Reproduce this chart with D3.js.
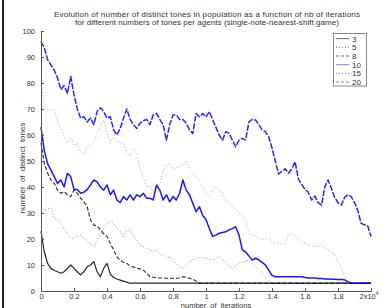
<!DOCTYPE html>
<html>
<head>
<meta charset="utf-8">
<script src="https://cdn.jsdelivr.net/npm/d3@7"></script>
<style>
  body { margin: 0; background: #fff; }
  text { font-family: "Liberation Sans", Arial, sans-serif; fill: #333; }
</style>
</head>
<body>
<script>
// Iterations are sampled every 200 steps, 0 .. 20000
const step = 200;

// Series values (number of distinct tones)
const s3 = [
  23, 15, 10.6, 8.7, 8, 7.4, 6.8, 7.4, 8.7, 10,
  8.7, 7.4, 6.2, 7.4, 9.3, 10, 11.3, 7.4, 5.5, 8.7,
  10.6, 6.5, 5.2, 4.6, 4.2, 3.8, 3.4, 3, 3, 3,
  3, 3, 3, 3, 3, 3, 3, 3, 3, 3,
  3, 3, 3, 3, 3, 3, 3, 3, 3, 3,
  3, 3, 3, 3, 3, 3, 3, 3, 3, 3,
  3, 3, 3, 3, 3, 3, 3, 3, 3, 3,
  3, 3, 3, 3, 3, 3, 3, 3, 3, 3,
  3, 3, 3, 3, 3, 3, 3, 3, 3, 3,
  3, 3, 3, 3, 3, 3, 3, 3, 3, 3,
  3
];
const s5 = [
  32.4, 31, 31.5, 32, 28, 27.5, 26, 24, 22, 20.3,
  20, 21, 21.5, 20.5, 19, 18.3, 17, 19.6, 22.2, 24.1,
  26, 26.7, 26, 24.1, 22.8, 20.9, 23.5, 23.5, 20.9, 19.6,
  17.7, 17, 16.4, 15.8, 15.1, 15.8, 14.5, 13.8, 12.6, 13.2,
  11.9, 10.6, 9.3, 8.7, 10, 11.3, 11.9, 12.6, 13, 12.6,
  12.8, 12.2, 11.9, 12.5, 13.2, 12, 11.3, 9.5, 8.7, 9.5,
  10.6, 11, 11.5, 11.9, 10.5, 9.3, 8, 6.8, 5.5, 4,
  3, 3, 3, 3, 3, 3, 3, 3, 3, 3,
  3, 3, 3, 3, 3, 3, 3, 3, 3, 3,
  3, 3, 3, 3, 3, 3, 3, 3, 3, 3,
  3
];
const s8 = [
  57, 49, 45.3, 42.7, 41.4, 38.8, 37.6, 38.2, 37, 36.3,
  38.8, 37.6, 35.7, 34.3, 32.4, 27.3, 25.4, 25, 23.5, 22,
  21, 18.3, 15.8, 13.2, 11.8, 11, 10.6, 9.6, 9.2, 8.8,
  8.5, 8, 6.8, 5.5, 5.3, 5.2, 5, 5, 4.9, 4.9,
  4.9, 4.9, 5, 5.5, 5.3, 4.9, 4.5, 3.8, 3, 3,
  3, 3, 3, 3, 3, 3, 3, 3, 3, 3,
  3, 3, 3, 3, 3, 3, 3, 3, 3, 3,
  3, 3, 3, 3, 3, 3, 3, 3, 3, 3,
  3, 3, 3, 3, 3, 3, 3, 3, 3, 3,
  3, 3, 3, 3, 3, 3, 3, 3, 3, 3,
  3
];
const s10 = [
  63, 54, 49, 46.5, 44, 41.4, 42.7, 40, 45.3, 44,
  39, 39, 37.6, 38, 39, 40.8, 42.7, 42, 40, 38.8,
  40.8, 37, 38.8, 35, 34, 36.3, 35, 37, 35, 37,
  36.3, 37.6, 35.7, 35.7, 35, 40.8, 38.8, 35, 37, 34.3,
  36.3, 35, 37.6, 42.7, 38.8, 37, 33.7, 30.5, 32.4, 29,
  27.5, 24, 21, 21.5, 22.2, 22.5, 22.8, 23.5, 24, 24.7,
  21.5, 15.8, 15, 13.5, 11.9, 12.6, 12, 11, 10, 8,
  6, 5.5, 5.5, 5.5, 5.5, 5.5, 5.5, 5.5, 5.5, 5.5,
  5.2, 5, 5, 5, 4.8, 4.8, 4.6, 4.6, 4.5, 4.5,
  4.4, 4.4, 4.3, 3.5, 3, 3, 3, 3, 3, 3,
  3
];
const s15 = [
  80, 72, 70, 69, 70, 65, 62.5, 59.5, 57, 58.8,
  56, 56.8, 53.5, 52.3, 55.5, 56, 57.4, 60.6, 63.2, 65.8,
  60.6, 57, 59.3, 58, 57, 56.8, 53.6, 51.7, 55, 53,
  47, 44, 40, 40.5, 38, 39, 41.4, 46, 48.5, 49,
  47, 47.2, 48, 48.5, 50, 47, 45.3, 44, 42, 40,
  37.5, 36.3, 39, 40, 38.5, 38, 35, 34, 32.4, 31.5,
  30, 29, 27.3, 22, 21, 21.5, 20, 19.6, 20.3, 20,
  19, 18.5, 18.3, 18, 17.7, 22, 22.2, 21, 20, 19,
  18.5, 17.7, 17.5, 17, 17.2, 17.7, 16.5, 15.8, 15, 14,
  11, 9, 5.5, 3.5, 3, 3, 3, 3, 3, 3,
  3
];
const s20 = [
  96, 93.5, 89, 87, 85, 82, 77.5, 79, 76, 82.5,
  75.5, 70, 66.5, 67, 65, 66.5, 64, 69, 70.5, 69,
  66.5, 67, 62, 60, 62.5, 66.5, 70, 66, 64, 62.5,
  64.5, 65.5, 66, 64, 67.7, 68.3, 66, 64, 58, 64,
  67.7, 67.7, 66, 66, 64.5, 62, 60.6, 68.3, 67, 68.3,
  67, 69, 66, 63, 60, 58, 61.3, 60.6, 58, 55.5,
  58, 58.7, 58, 65, 66, 65.8, 64, 62, 61.3, 59.3,
  55, 50, 45, 46, 47, 45.3, 47, 49.7, 43, 41,
  39, 38, 35, 36.5, 34, 33, 40, 42.7, 39.5, 36,
  34, 33, 36, 37, 36.3, 34, 31, 26, 25.5, 25,
  21
];

const seriesNames = ["3", "5", "8", "10", "15", "20"];
const seriesValues = [s3, s5, s8, s10, s15, s20];
const yTicks = [0, 10, 20, 30, 40, 50, 60, 70, 80, 90, 100];
const xTicks = [0, 2000, 4000, 6000, 8000, 10000, 12000, 14000, 16000, 18000, 20000];
const xTickLabels = ["0", "0.2", "0.4", "0.6", "0.8", "1", "1.2", "1.4", "1.6", "1.8", "2"];

// line looks for each series, in the same order
const styles = [
  { color: "#000", dash: null, width: 1.2, opacity: 0.85 },
  { color: "#000", dash: "1,2", width: 0.9, opacity: 0.45 },
  { color: "#000", dash: "4,2", width: 1.1, opacity: 0.85 },
  { color: "#00f", dash: null, width: 1.5, opacity: 0.9 },
  { color: "#00f", dash: "1,2", width: 0.9, opacity: 0.4 },
  { color: "#00f", dash: "6,1.5", width: 1.5, opacity: 0.85 }
];

const width = 391, height = 308;
const svg = d3.select("body").append("svg")
  .attr("width", width)
  .attr("height", height);

// window edge line on the left
svg.append("rect").attr("x", 2).attr("y", 0).attr("width", 2).attr("height", height).attr("fill", "#222");

const x = d3.scaleLinear().domain([0, 20000]).range([41, 371]);
const y = d3.scaleLinear().domain([0, 100]).range([291, 31]);

// title
const title = svg.append("g");
title.append("text").attr("x", 207).attr("y", 17).attr("text-anchor", "middle")
  .attr("font-size", 8).attr("textLength", 306).attr("lengthAdjust", "spacing")
  .text("Evolution of number of distinct tones in population as a function of nb of iterations");
title.append("text").attr("x", 207).attr("y", 25).attr("text-anchor", "middle")
  .attr("font-size", 8).attr("textLength", 264).attr("lengthAdjust", "spacing")
  .text("for different numbers of tones per agents (single-note-nearest-shift game)");

// lines
const line = d3.line()
  .x((d, i) => x(i * step))
  .y(d => y(d));

seriesValues.forEach((vals, k) => {
  const st = styles[k];
  svg.append("path")
    .datum(vals)
    .attr("fill", "none")
    .attr("stroke", st.color)
    .attr("stroke-width", st.width)
    .attr("stroke-opacity", st.opacity)
    .attr("stroke-dasharray", st.dash)
    .attr("stroke-linejoin", "round")
    .attr("d", line);
});

// axes, matlab style with ticks pointing in
const yAxis = svg.append("g").attr("transform", "translate(41,0)")
  .call(d3.axisLeft(y).tickValues(yTicks).tickSize(-3).tickPadding(6));
const xAxis = svg.append("g").attr("transform", "translate(0,291)")
  .call(d3.axisBottom(x).tickValues(xTicks).tickSize(-3).tickPadding(2.5)
    .tickFormat((d, i) => xTickLabels[i]));

[yAxis, xAxis].forEach(ax => {
  ax.select(".domain").attr("stroke", "#555");
  ax.selectAll(".tick line").attr("stroke", "#555");
  ax.selectAll(".tick text").attr("font-size", 7.5)
    .attr("font-family", "Liberation Sans, Arial, sans-serif").attr("fill", "#333");
});

// last x label reads 2x10^4
const last = xAxis.selectAll(".tick text").filter((d, i) => i === xTicks.length - 1);
last.text(null).attr("text-anchor", "start").attr("dx", -12);
last.append("tspan").text("2x10");
last.append("tspan").attr("font-size", 5).attr("dy", -4).text("4");

// axis titles
svg.append("text").attr("x", 216).attr("y", 307.5).attr("text-anchor", "middle")
  .attr("font-size", 7.5).attr("word-spacing", 2).text("number of iterations");
svg.append("text").attr("transform", "translate(25,168) rotate(-90)")
  .attr("text-anchor", "middle").attr("font-size", 8).attr("word-spacing", 2)
  .text("number of distinct tones");

// legend
const legend = svg.append("g");
legend.append("rect").attr("x", 333.5).attr("y", 33.5).attr("width", 33).attr("height", 52.5)
  .attr("fill", "#fff").attr("stroke", "#888").attr("stroke-width", 1);
seriesNames.forEach((name, k) => {
  const st = styles[k];
  const ly = 38.6 + k * 8.7;
  legend.append("line").attr("x1", 336).attr("x2", 349).attr("y1", ly).attr("y2", ly)
    .attr("stroke", st.color).attr("stroke-width", 1)
    .attr("stroke-opacity", k === 3 || k === 5 ? 0.5 : 0.6)
    .attr("stroke-dasharray", st.dash === "1,2" ? "1,2" : (st.dash ? "3,2" : null));
  legend.append("text").attr("x", 352).attr("y", ly + 3).attr("font-size", 8).text(name);
});
</script>
</body>
</html>
